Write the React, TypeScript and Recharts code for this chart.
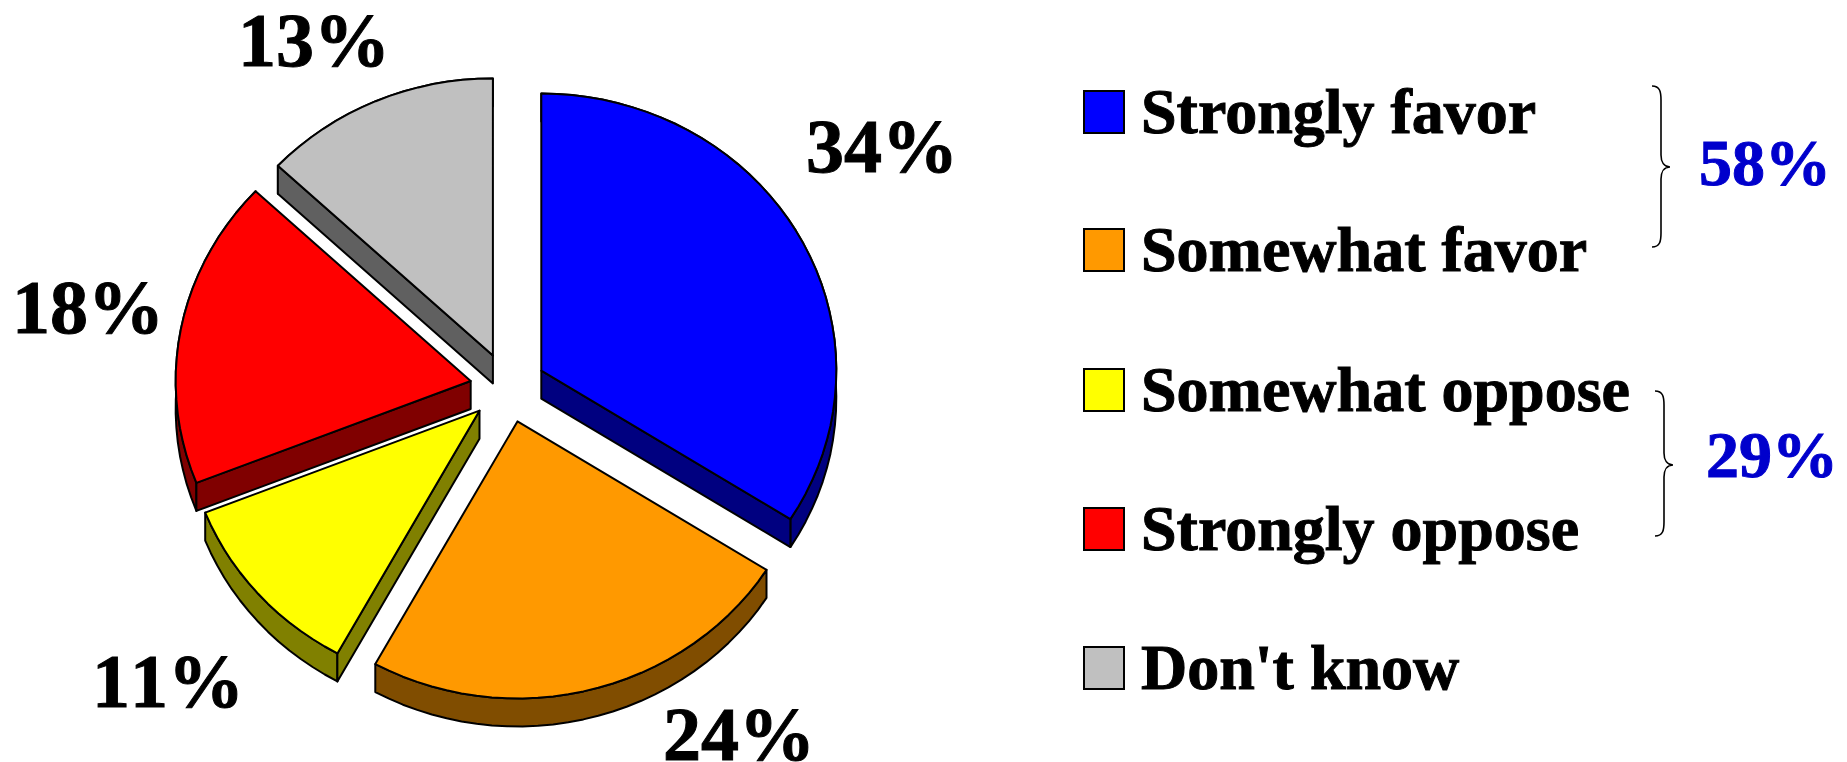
import React from "react";
import { PieChart, Pie, Cell, Legend } from "recharts";

const categories = ["Strongly favor", "Somewhat favor", "Somewhat oppose", "Strongly oppose", "Don't know"];
const shares = [34, 24, 11, 18, 13];
const faceColors = ["#0000FF", "#FF9900", "#FFFF00", "#FF0000", "#C0C0C0"];
const wallColors = ["#000080", "#804D00", "#808000", "#800000", "#606060"];
const groupTotals = ["58%", "29%"];

const data = categories.map((name, i) => ({ name, value: shares[i] }));

const FONT = '"Liberation Serif", "Times New Roman", serif';
const RX = 295, RY = 277, EXPLODE_X = 38, EXPLODE_Y = 35, DEPTH = 28;
const LABEL_POS = [[806, 172], [663, 760], [92, 707], [12, 333], [238, 66]];
const LEGEND_Y = [91, 229, 369, 508, 647];

function Slice(props: any) {
  const { cx, cy, startAngle, endAngle, index } = props;
  const rad = (d: number) => (d * Math.PI) / 180;
  const mid = rad((startAngle + endAngle) / 2);
  const ax = cx + EXPLODE_X * Math.cos(mid);
  const ay = cy - EXPLODE_Y * Math.sin(mid);
  const pts: [number, number][] = [];
  const n = Math.max(8, Math.ceil(Math.abs(endAngle - startAngle) / 3));
  for (let k = 0; k <= n; k++) {
    const a = rad(startAngle + ((endAngle - startAngle) * k) / n);
    pts.push([ax + RX * Math.cos(a), ay - RY * Math.sin(a)]);
  }
  const line = (p: [number, number][], dy = 0) => p.map(([x, y]) => `${x.toFixed(1)},${(y + dy).toFixed(1)}`).join(" L");
  const top = `M${ax},${ay} L${line(pts)} Z`;
  const rim = `M${line(pts)} L${line([...pts].reverse(), DEPTH)} Z`;
  const first = pts[0], last = pts[pts.length - 1];
  const centre = pts[Math.floor(n / 2)];
  // a radial wall shows only when its outward side faces down the picture
  const faces = [first, last].filter((p) => {
    const ex = p[0] - ax, ey = p[1] - ay;
    let nx = -ey, ny = ex;
    if (nx * (centre[0] - ax) + ny * (centre[1] - ay) > 0) { nx = -nx; ny = -ny; }
    return ny > 0.01;
  });
  const wall = wallColors[index];
  const st = { stroke: "#000", strokeWidth: 2, strokeLinejoin: "round" as const };
  return (
    <g>
      <path d={rim} fill={wall} {...st} />
      {faces.map((p, i) => (
        <path key={i} d={`M${ax},${ay} L${p[0]},${p[1]} L${p[0]},${p[1] + DEPTH} L${ax},${ay + DEPTH} Z`} fill={wall} {...st} />
      ))}
      <path d={top} fill={faceColors[index]} {...st} />
    </g>
  );
}

function renderLabel(props: any) {
  const { index, value } = props;
  const [x, y] = LABEL_POS[index];
  return (
    <text x={x} y={y} fontFamily={FONT} fontWeight={700} fontSize={76} fill="#000" stroke="#000" strokeWidth={1} textAnchor="start" style={{ fontKerning: "none" }}>
      {`${value}%`}
    </text>
  );
}

function Brace({ x, y0, y1, tip }: { x: number; y0: number; y1: number; tip: number }) {
  const d = `M${x},${y0} C${x + 8},${y0} ${x + 9},${y0 + 6} ${x + 9},${y0 + 14} L${x + 9},${tip - 12} C${x + 9},${tip - 5} ${x + 12},${tip} ${x + 18},${tip} C${x + 12},${tip} ${x + 9},${tip + 5} ${x + 9},${tip + 12} L${x + 9},${y1 - 14} C${x + 9},${y1 - 6} ${x + 8},${y1} ${x},${y1}`;
  return <path d={d} fill="none" stroke="#000" strokeWidth={1.6} />;
}

function LegendBox(props: any) {
  const payload = props.payload || [];
  return (
    <svg width={847} height={762} style={{ display: "block" }}>
      {payload.map((e: any, i: number) => (
        <g key={e.value}>
          <rect x={84} y={LEGEND_Y[i]} width={40} height={42} fill={faceColors[i]} stroke="#000" strokeWidth={2} />
          <text x={141} y={LEGEND_Y[i] + 42} fontFamily={FONT} fontWeight={700} fontSize={64} fill="#000" stroke="#000" strokeWidth={1}>
            {e.value}
          </text>
        </g>
      ))}
      <Brace x={652} y0={86} y1={247} tip={167} />
      <Brace x={655} y0={391} y1={536} tip={465} />
      <text x={699} y={185} fontFamily={FONT} fontWeight={700} fontSize={66} fill="#0000CC" stroke="#0000CC" strokeWidth={1}>{groupTotals[0]}</text>
      <text x={706} y={477} fontFamily={FONT} fontWeight={700} fontSize={66} fill="#0000CC" stroke="#0000CC" strokeWidth={1}>{groupTotals[1]}</text>
    </svg>
  );
}

export default function App() {
  return (
    <div style={{ position: "absolute", left: 0, top: 0, width: 1847, height: 762, background: "#fff", overflow: "hidden" }}>
      <PieChart width={1847} height={762} margin={{ top: 0, right: 0, bottom: 0, left: 0 }}>
        <Pie
          data={data}
          dataKey="value"
          nameKey="name"
          cx={508}
          cy={387.5}
          outerRadius={RX}
          startAngle={90}
          endAngle={-270}
          paddingAngle={0}
          isAnimationActive={false}
          labelLine={false}
          label={renderLabel}
          shape={Slice}
        >
          {data.map((d, i) => (
            <Cell key={d.name} fill={faceColors[i]} />
          ))}
        </Pie>
        <Legend itemSorter={null} content={LegendBox} wrapperStyle={{ position: "absolute", left: 1000, top: 0, width: 847, height: 762 }} />
      </PieChart>
    </div>
  );
}
